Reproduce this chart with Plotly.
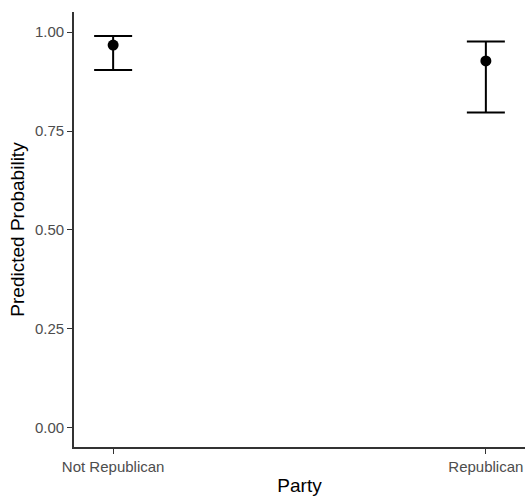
import plotly.graph_objects as go

party = ["Not Republican", "Republican"]
prob = [0.967, 0.927]
lower = [0.904, 0.797]
upper = [0.990, 0.976]

err_plus = [u - p for u, p in zip(upper, prob)]
err_minus = [p - l for p, l in zip(prob, lower)]

fig = go.Figure()
fig.add_trace(go.Scatter(
    x=party, y=prob, mode="markers",
    marker=dict(color="black", size=11),
    error_y=dict(type="data", symmetric=False, array=err_plus, arrayminus=err_minus,
                 color="black", thickness=2, width=19),
    showlegend=False,
))

font = "Liberation Sans, Arial, sans-serif"
fig.update_layout(
    width=526, height=496,
    margin=dict(l=74, r=1, t=12, b=49),
    plot_bgcolor="white", paper_bgcolor="white",
    font=dict(family=font),
    xaxis=dict(
        type="category", range=[-0.105, 1.105],
        showline=True, linecolor="#333333", linewidth=1.6,
        ticks="outside", ticklen=5, tickwidth=1.2, tickcolor="#333333",
        tickfont=dict(size=15, color="#4D4D4D", family=font),
        showgrid=False, zeroline=False,
        title=dict(text="Party", font=dict(size=19, color="black", family=font), standoff=6),
    ),
    yaxis=dict(
        range=[-0.048, 1.0505],
        tickvals=[0, 0.25, 0.5, 0.75, 1.0],
        ticktext=["0.00", "0.25", "0.50", "0.75", "1.00"],
        showline=True, linecolor="#333333", linewidth=1.6,
        ticks="outside", ticklen=5, tickwidth=1.2, tickcolor="#333333",
        tickfont=dict(size=15, color="#4D4D4D", family=font),
        showgrid=False, zeroline=False,
        title=dict(text="Predicted Probability", font=dict(size=19, color="black", family=font), standoff=5),
    ),
)

fig.write_html(
    "out.html",
    config={"displayModeBar": False},
    post_script="document.body.style.margin='0';document.body.style.overflow='hidden';",
)
